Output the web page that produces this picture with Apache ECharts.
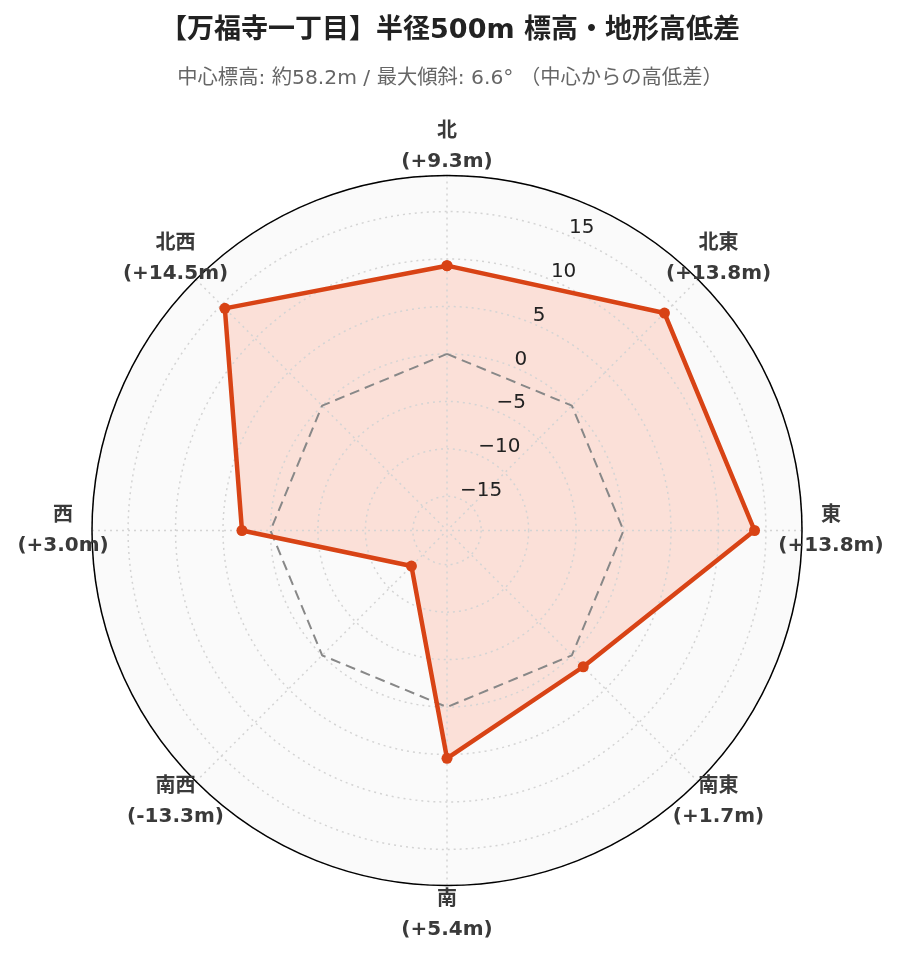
<!DOCTYPE html>
<html>
<head>
<meta charset="utf-8">
<script src="https://cdn.jsdelivr.net/npm/echarts@6/dist/echarts.min.js"></script>
<style>
html,body{margin:0;padding:0;background:#fff;}
#chart{width:900px;height:962px;}
</style>
</head>
<body>
<div id="chart"></div>
<script>
// ---- data ----
const directions = ['北', '北東', '東', '南東', '南', '南西', '西', '北西'];
const angles = [0, 45, 90, 135, 180, 225, 270, 315];
const diffs = [9.3, 13.8, 13.8, 1.7, 5.4, -13.3, 3.0, 14.5];
const zeroRef = [0, 0, 0, 0, 0, 0, 0, 0];
const radialTicks = [-15, -10, -5, 0, 5, 10, 15];
const titleText = '【万福寺一丁目】半径500m 標高・地形高低差';
const subText = '中心標高: 約58.2m / 最大傾斜: 6.6° （中心からの高低差）';

// ---- layout ----
const R_MIN = -18.6, R_MAX = 18.8;
const LABEL_R = 21.85;
const FONT = '"DejaVu Sans", "Noto Sans CJK JP", sans-serif';

function closed(vals) {
  const d = vals.map((v, i) => [v, angles[i]]);
  d.push([vals[0], 360]);
  return d;
}
function fmtDiff(v) {
  return '(' + (v >= 0 ? '+' : '') + v.toFixed(1) + 'm)';
}

const chart = echarts.init(document.getElementById('chart'), null, {renderer: 'canvas'});
const polarBase = {center: [447, 530.5], radius: 355};

const option = {
  backgroundColor: '#ffffff',
  animation: false,
  title: [
    {text: titleText, left: 'center', top: 12,
     textStyle: {fontFamily: FONT, fontSize: 27, fontWeight: 'bold', color: '#222'}},
    {text: subText, left: 'center', top: 64,
     textStyle: {fontFamily: FONT, fontSize: 20.3, fontWeight: 'normal', color: '#666'}}
  ],
  polar: [
    Object.assign({}, polarBase),
    Object.assign({}, polarBase)
  ],
  angleAxis: [
    {polarIndex: 0, type: 'value', min: 0, max: 360, interval: 45, startAngle: 90, clockwise: true,
     axisLine: {show: true, lineStyle: {color: '#000', width: 1.5}},
     axisTick: {show: false}, axisLabel: {show: false},
     splitLine: {show: true, lineStyle: {color: '#d4d4d4', type: [2, 4], width: 1.5}},
     z: 3},
    {polarIndex: 1, type: 'value', min: 0, max: 360, interval: 45, startAngle: 67.5, clockwise: true,
     axisLine: {show: false}, axisTick: {show: false}, axisLabel: {show: false},
     splitLine: {show: false},
     splitArea: {show: true, areaStyle: {color: ['#fafafa']}},
     z: 0}
  ],
  radiusAxis: [
    {polarIndex: 0, type: 'value', min: R_MIN, max: R_MAX, splitNumber: 8,
     axisLine: {show: false}, axisTick: {show: false}, axisLabel: {show: false},
     splitLine: {show: true, lineStyle: {color: '#d4d4d4', type: [2, 4], width: 1.5}},
     z: 3},
    {polarIndex: 1, type: 'value', min: R_MIN, max: R_MAX, splitNumber: 8,
     axisLine: {show: false}, axisTick: {show: false},
     splitLine: {show: false},
     axisLabel: {show: true, margin: 0, align: 'left', verticalAlign: 'bottom',
       lineHeight: 16,
       fontFamily: FONT, fontSize: 20, color: '#222',
       formatter: function (v) {
         const r = Math.round(v);
         if (Math.abs(v - r) > 1e-6 || radialTicks.indexOf(r) < 0) return '';
         return String(r).replace('-', '\u2212');
       }},
     z: 10}
  ],
  series: [
    {type: 'line', coordinateSystem: 'polar', polarIndex: 0, data: closed(diffs),
     symbol: 'none', lineStyle: {width: 0, opacity: 0},
     areaStyle: {origin: 'start', color: 'rgba(255,120,80,0.2)', opacity: 1}, z: 2, silent: true},
    {type: 'line', coordinateSystem: 'polar', polarIndex: 0, data: closed(zeroRef),
     symbol: 'none', lineStyle: {color: '#888', width: 2, type: [10, 6]}, z: 4, silent: true},
    {type: 'line', coordinateSystem: 'polar', polarIndex: 0, data: closed(diffs),
     symbol: 'circle', symbolSize: 11, showAllSymbol: true,
     itemStyle: {color: '#d84315'},
     lineStyle: {color: '#d84315', width: 4.5}, z: 5, silent: true},
    {type: 'scatter', coordinateSystem: 'polar', polarIndex: 0, clip: false,
     data: directions.map((d, i) => ({name: d, value: [LABEL_R, angles[i]]})),
     symbolSize: 1, itemStyle: {color: 'rgba(0,0,0,0)', opacity: 1},
     label: {show: true, position: [0.5, 0.5], align: 'center', verticalAlign: 'middle',
       fontFamily: FONT, fontSize: 20, fontWeight: 'bold', color: '#3a3a3a', lineHeight: 30,
       formatter: function (p) { return p.name + '\n' + fmtDiff(diffs[p.dataIndex]); }},
     z: 6, silent: true}
  ]
};
chart.setOption(option);
</script>
</body>
</html>
